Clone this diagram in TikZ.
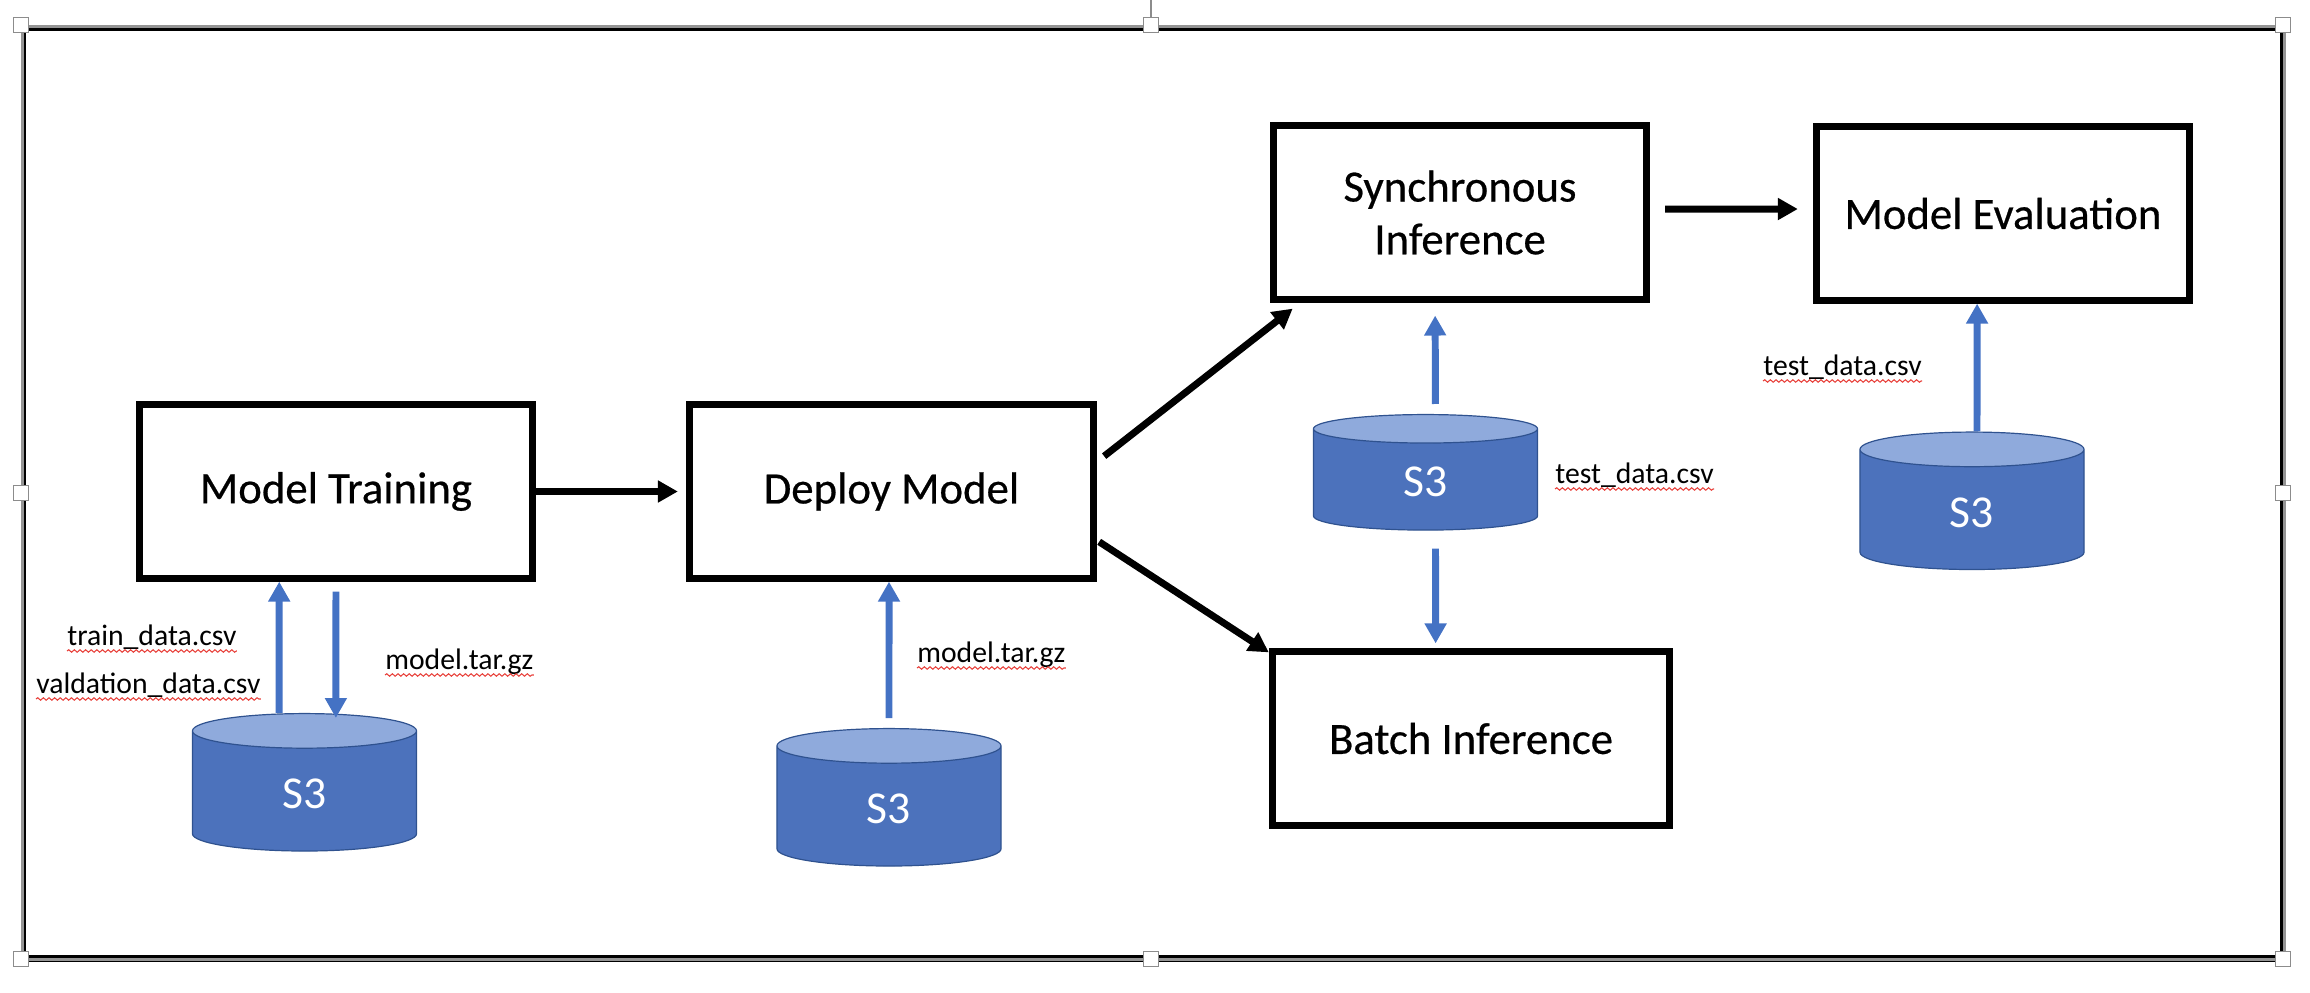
\documentclass[tikz,border=0pt]{standalone}
\usepackage{fontspec}
\setmainfont{Carlito}
\newfontfamily\boxfont[FakeBold=0.5]{Carlito}
\usetikzlibrary{arrows.meta,shapes.geometric,decorations.pathmorphing}

\newcommand{\pxu}{0.5669pt}

\definecolor{s3body}{HTML}{4C72BC}
\definecolor{s3top}{HTML}{8FAADC}
\definecolor{s3edge}{HTML}{2F528F}
\definecolor{flowblue}{HTML}{4472C4}
\definecolor{spellred}{HTML}{E8403A}

\tikzset{
    modelbox/.style={draw, line width=7*\pxu, minimum height=174*\pxu, align=center,
        font=\boxfont\fontsize{25.5}{30}\selectfont},
    s3can/.style={cylinder, shape border rotate=90, aspect=0.62, draw=s3edge, line width=1.2*\pxu,
        cylinder uses custom fill, cylinder body fill=s3body, cylinder end fill=s3top,
        minimum width=225*\pxu, minimum height=138*\pxu, text=white,
        font=\fontsize{26}{28}\selectfont},
    filelabel/.style={anchor=base west, inner sep=0pt, font=\fontsize{16.9}{20}\selectfont},
    squiggle/.style={spellred, line width=0.6pt, decorate,
        decoration={snake, amplitude=0.7pt, segment length=3.2pt}},
    flowblack/.style={line width=7*\pxu, -{Triangle[length=20*\pxu,width=21*\pxu]}},
    flowup/.style={flowblue, line width=7*\pxu, -{Triangle[length=20*\pxu,width=21*\pxu]}},
    handlebox/.style={draw=black!45, fill=white, line width=1*\pxu, inner sep=0pt,
        minimum size=15*\pxu}
}

\begin{document}
\begin{tikzpicture}[x=0.02cm, y=-0.02cm]

    \useasboundingbox (0,0) rectangle (2310,992);

    % --- Frame ---
    % Doubled outline of the selected picture
    \draw[line width=1.2*\pxu] (24,29) rectangle (2285.5,961);
    \draw[black!42, line width=4*\pxu] (23,27) rectangle (2283.5,958.5);
    \draw[line width=3*\pxu] (25,29) rectangle (2281,956);

    % --- Handles ---
    \coordinate (rotatetop) at (1151,0);
    \draw[black!45, line width=1.5*\pxu] (rotatetop) -- (1151,20);
    \foreach \hname/\hx/\hy in {htl/21/25, htm/1151/25, htr/2283/25, hml/21/493,
        hmr/2283/493, hbl/21/959, hbm/1151/959, hbr/2283/959}
        \node[handlebox] (\hname) at (\hx,\hy) {};

    % --- Boxes ---
    \node[modelbox, minimum width=395*\pxu] (train) at (336,491.5) {Model Training};
    \node[modelbox, minimum width=406*\pxu] (deploy) at (891.5,491.5) {Deploy Model};
    \node[modelbox, minimum width=375*\pxu] (sync) at (1460,212.5) {Synchronous\\Inference};
    \node[modelbox, minimum width=375*\pxu] (eval) at (2003,213.5) {Model Evaluation};
    \node[modelbox, minimum width=399*\pxu] (batch) at (1471,738.5) {Batch Inference};

    % --- S3 Buckets ---
    \node[s3can] (s3train) at (304.5,794) {S3};
    \node[s3can] (s3deploy) at (889,809) {S3};
    \node[s3can, minimum height=116*\pxu, aspect=0.51] (s3sync) at (1425.5,482) {S3};
    \node[s3can] (s3eval) at (1972,512.5) {S3};

    % --- Flow Arrows ---
    \draw[flowblack, shorten >=8*\pxu] (train.east) -- (deploy.west);
    \draw[flowblack] ([xshift=7*\pxu,yshift=35.5*\pxu]deploy.east) -- ([xshift=23*\pxu,yshift=-6*\pxu]sync.south west);
    \draw[flowblack] ([xshift=2*\pxu,yshift=-50.5*\pxu]deploy.east) -- ([yshift=-4*\pxu]batch.north west);
    \draw[flowblack, shorten <=15*\pxu, shorten >=15*\pxu] ([yshift=3.5*\pxu]sync.east) -- ([yshift=4.5*\pxu]eval.west);

    % --- Bucket Arrows ---
    \draw[flowup] ([xshift=-25.5*\pxu]s3train.north) -- ([xshift=-57*\pxu]train.south);
    \draw[flowup, shorten <=10*\pxu] (train.south) -- ([xshift=31.5*\pxu,yshift=-5*\pxu]s3train.north);
    \draw[flowup, shorten <=10*\pxu] (s3deploy.north) -- ([xshift=-2.5*\pxu]deploy.south);
    \draw[flowup, shorten <=10*\pxu, shorten >=13*\pxu] ([xshift=10*\pxu]s3sync.north) -- ([xshift=-25*\pxu]sync.south);
    \draw[flowup, shorten <=18*\pxu, shorten >=5*\pxu] ([xshift=10*\pxu]s3sync.south) -- ([xshift=-35.5*\pxu]batch.north);
    \draw[flowup] ([xshift=5*\pxu]s3eval.north) -- ([xshift=-26*\pxu]eval.south);

    % --- File Labels ---
    \node[filelabel] (lbltrain) at (67,645) {train\_data.csv};
    \node[filelabel] (lblvalid) at (36,693) {valdation\_data.csv};
    \node[filelabel] (lblmodelout) at (385,669) {model.tar.gz};
    \node[filelabel] (lblmodelin) at (917,662) {model.tar.gz};
    \node[filelabel] (lbltestsync) at (1555,483) {test\_data.csv};
    \node[filelabel] (lbltesteval) at (1763,375) {test\_data.csv};

    % --- Spelling Marks ---
    \foreach \lbl in {lbltrain, lblvalid, lblmodelout, lblmodelin, lbltestsync, lbltesteval}
        \draw[squiggle] ([yshift=-6*\pxu]\lbl.base west) -- ([yshift=-6*\pxu]\lbl.base east);

\end{tikzpicture}
\end{document}
